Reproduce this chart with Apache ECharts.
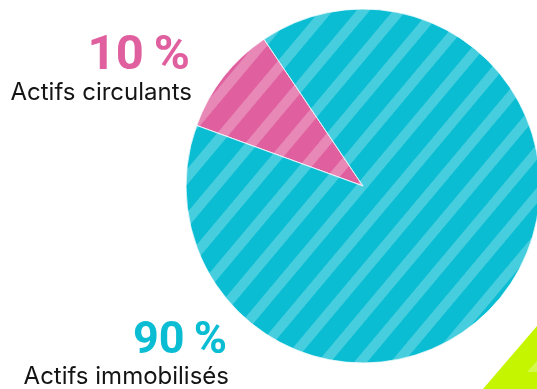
<!DOCTYPE html>
<html>
<head>
<meta charset="utf-8">
<script src="https://cdn.jsdelivr.net/npm/echarts@6/dist/echarts.min.js"></script>
<style>
html,body{margin:0;padding:0;background:#fff;}
#c{width:537px;height:389px;}
</style>
</head>
<body>
<div id="c"></div>
<script>
const categories = ['Actifs circulants', 'Actifs immobilisés'];
const values = [10, 90];
const colors = ['#E0609F', '#0ABDD3'];

// label anchor (right edge, vertical middle) for percent and name
const pctPos = [[190, 57], [227, 342]];
const pctSize = [49, 45];
const namePos = [[192, 93], [229, 377]];

const chart = echarts.init(document.getElementById('c'));
const stripe = {
  symbol: 'rect',
  symbolSize: 1,
  dashArrayX: [1, 0],
  dashArrayY: [10, 18],
  rotation: -50 * Math.PI / 180,
  color: 'rgba(255,255,255,0.25)'
};
const texts = [];
categories.forEach((c, i) => {
  texts.push({
    type: 'text', x: pctPos[i][0], y: pctPos[i][1],
    style: {
      text: values[i] + '\u2009%', fill: colors[i],
      font: '700 ' + pctSize[i] + 'px Roboto',
      align: 'right', verticalAlign: 'middle'
    }
  });
  texts.push({
    type: 'text', x: namePos[i][0], y: namePos[i][1],
    style: {
      text: c, fill: '#141414',
      font: '400 24px Inter',
      align: 'right', verticalAlign: 'middle'
    }
  });
});
chart.setOption({
  backgroundColor: '#fff',
  animation: false,
  graphic: [
    {type: 'polygon', shape: {points: [[483, 389], [537, 326], [537, 389]]}, style: {fill: '#C6F500'}},
    {type: 'polygon', shape: {points: [[527, 372], [537, 361], [537, 372]]}, style: {fill: '#D6FA4C'}}
  ].concat(texts),
  series: [{
    type: 'pie',
    center: [363, 186],
    radius: 177,
    startAngle: 160,
    clockwise: true,
    label: {show: false},
    labelLine: {show: false},
    itemStyle: {borderColor: 'rgba(255,255,255,0.6)', borderWidth: 0.8},
    emphasis: {disabled: true},
    data: categories.map((c, i) => ({
      name: c,
      value: values[i],
      itemStyle: {color: colors[i], decal: stripe}
    }))
  }]
});
</script>
</body>
</html>
